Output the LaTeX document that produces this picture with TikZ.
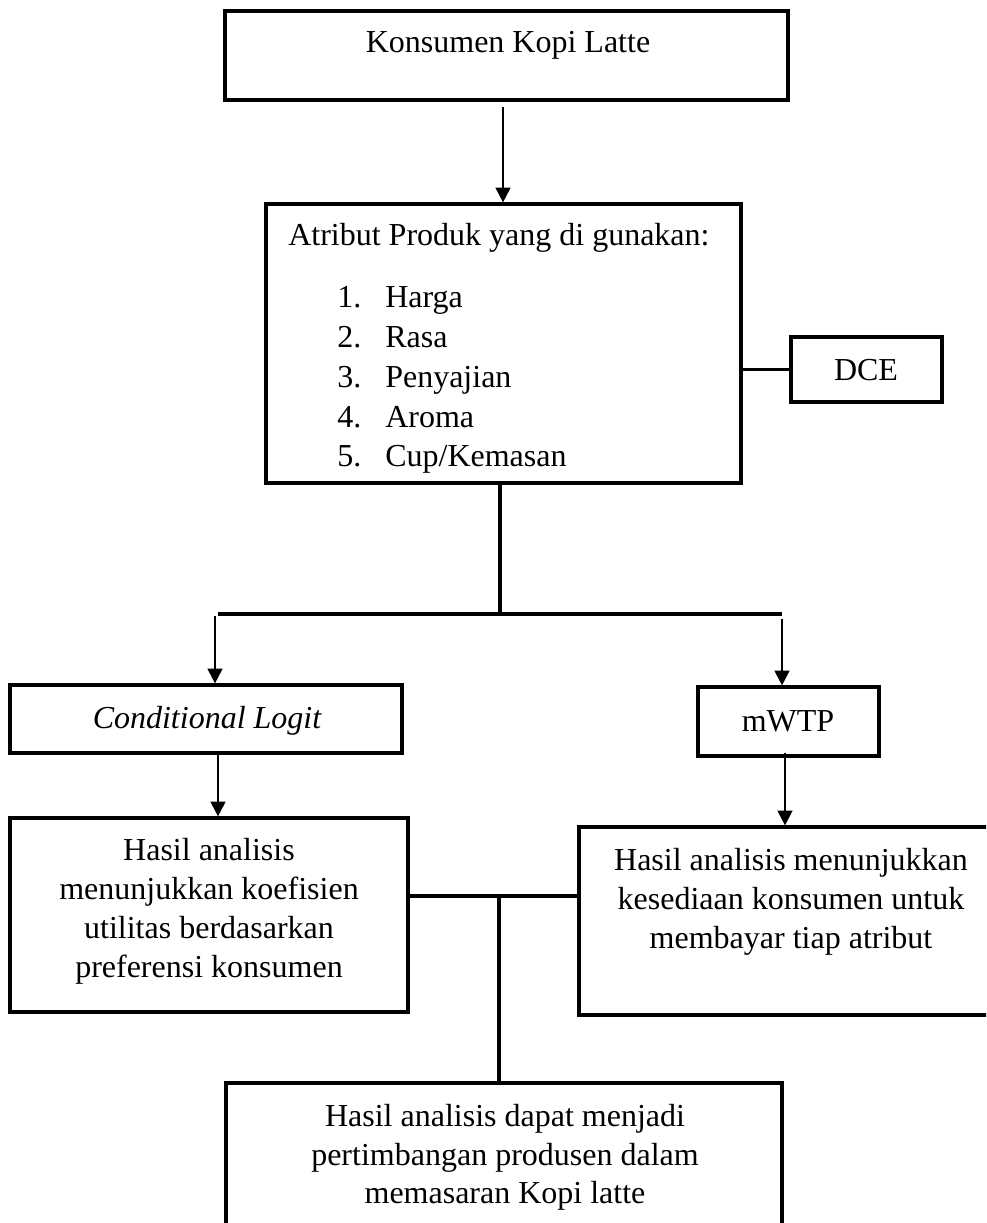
\documentclass[tikz,border=0pt]{standalone}
\usepackage{fontspec}
\setmainfont{Liberation Serif}
\usetikzlibrary{arrows.meta,fit}
\begin{document}
\begin{tikzpicture}[x=0.75pt,y=-0.75pt,
  font=\fontsize{24}{29.5}\selectfont,
  boxnode/.style={draw, line width=2.4pt, rectangle, inner sep=0pt},
  conn/.style={line width=1.6pt},
  thickconn/.style={line width=2.4pt},
  arr/.style={line width=1.6pt, -{Triangle[width=11pt,length=11pt]}},
  txt/.style={anchor=base, inner sep=0pt}]
\useasboundingbox (0,0) rectangle (986,1223);
\clip (0,0) rectangle (986,1223);
\fill[white] (0,0) rectangle (986,1223);

% boxes
\node[boxnode, fit={(225,11) (788,100)}] (b1) {};
\node[boxnode, fit={(266,204) (741,483)}] (b2) {};
\node[boxnode, fit={(791,337) (942,402)}] (dce) {};
\node[boxnode, fit={(10,685) (402,753)}] (cl) {};
\node[boxnode, fit={(698,687) (879,756)}] (mwtp) {};
\node[boxnode, fit={(10,818) (408,1012)}] (h1) {};
\node[boxnode, fit={(579,827) (1003,1015)}] (h2) {};
\node[boxnode, fit={(226,1083) (782,1240)}] (h3) {};

% texts
\node[txt] (t1) at (508,53) {Konsumen Kopi Latte};
\node[txt, anchor=base west] (t2) at (288,245) {Atribut Produk yang di gunakan:};
\node[txt, anchor=base west] (n1) at (337,307) {1.};
\node[txt, anchor=base west] (i1) at (385,307) {Harga};
\node[txt, anchor=base west] (n2) at (337,347) {2.};
\node[txt, anchor=base west] (i2) at (385,347) {Rasa};
\node[txt, anchor=base west] (n3) at (337,387) {3.};
\node[txt, anchor=base west] (i3) at (385,387) {Penyajian};
\node[txt, anchor=base west] (n4) at (337,427) {4.};
\node[txt, anchor=base west] (i4) at (385,427) {Aroma};
\node[txt, anchor=base west] (n5) at (337,466) {5.};
\node[txt, anchor=base west] (i5) at (385,466) {Cup/Kemasan};

\node[txt] (tdce) at (866,380) {DCE};
\node[txt] (tcl) at (207,728) {\itshape Conditional Logit};
\node[txt] (tmw) at (788,731) {mWTP};

\node[txt] (h1a) at (209,860) {Hasil analisis};
\node[txt] (h1b) at (209,899) {menunjukkan koefisien};
\node[txt] (h1c) at (209,938) {utilitas berdasarkan};
\node[txt] (h1d) at (209,977) {preferensi konsumen};

\node[txt] (h2a) at (791,870) {Hasil analisis menunjukkan};
\node[txt] (h2b) at (791,909) {kesediaan konsumen untuk};
\node[txt] (h2c) at (791,948) {membayar tiap atribut};

\node[txt] (h3a) at (505,1126) {Hasil analisis dapat menjadi};
\node[txt] (h3b) at (505,1165) {pertimbangan produsen dalam};
\node[txt] (h3c) at (505,1203) {memasaran Kopi latte};

% junction coordinates
\coordinate (top1) at (503,107);
\coordinate (j1) at (500,614);
\coordinate (jl) at (218,614);
\coordinate (jr) at (782,614);
\coordinate (al) at (215,616);
\coordinate (ar) at (782,619);
\coordinate (cla) at (218,753);
\coordinate (mwa) at (785,753);
\coordinate (jm) at (499,896);

% connectors
\draw[arr] (top1) -- (top1 |- b2.north);
\draw[conn] (b2.east |- dce.west) -- (dce.west);
\draw[thickconn] (j1 |- b2.south) -- (j1);
\draw[thickconn] (jl) -- (jr);
\draw[arr] (al) -- (al |- cl.north);
\draw[arr] (ar) -- (ar |- mwtp.north);
\draw[arr] (cla) -- (cla |- h1.north);
\draw[arr] (mwa) -- (mwa |- h2.north);
\draw[thickconn] (jm -| h1.east) -- (jm -| h2.west);
\draw[thickconn] (jm) -- (jm |- h3.north);
\end{tikzpicture}
\end{document}
